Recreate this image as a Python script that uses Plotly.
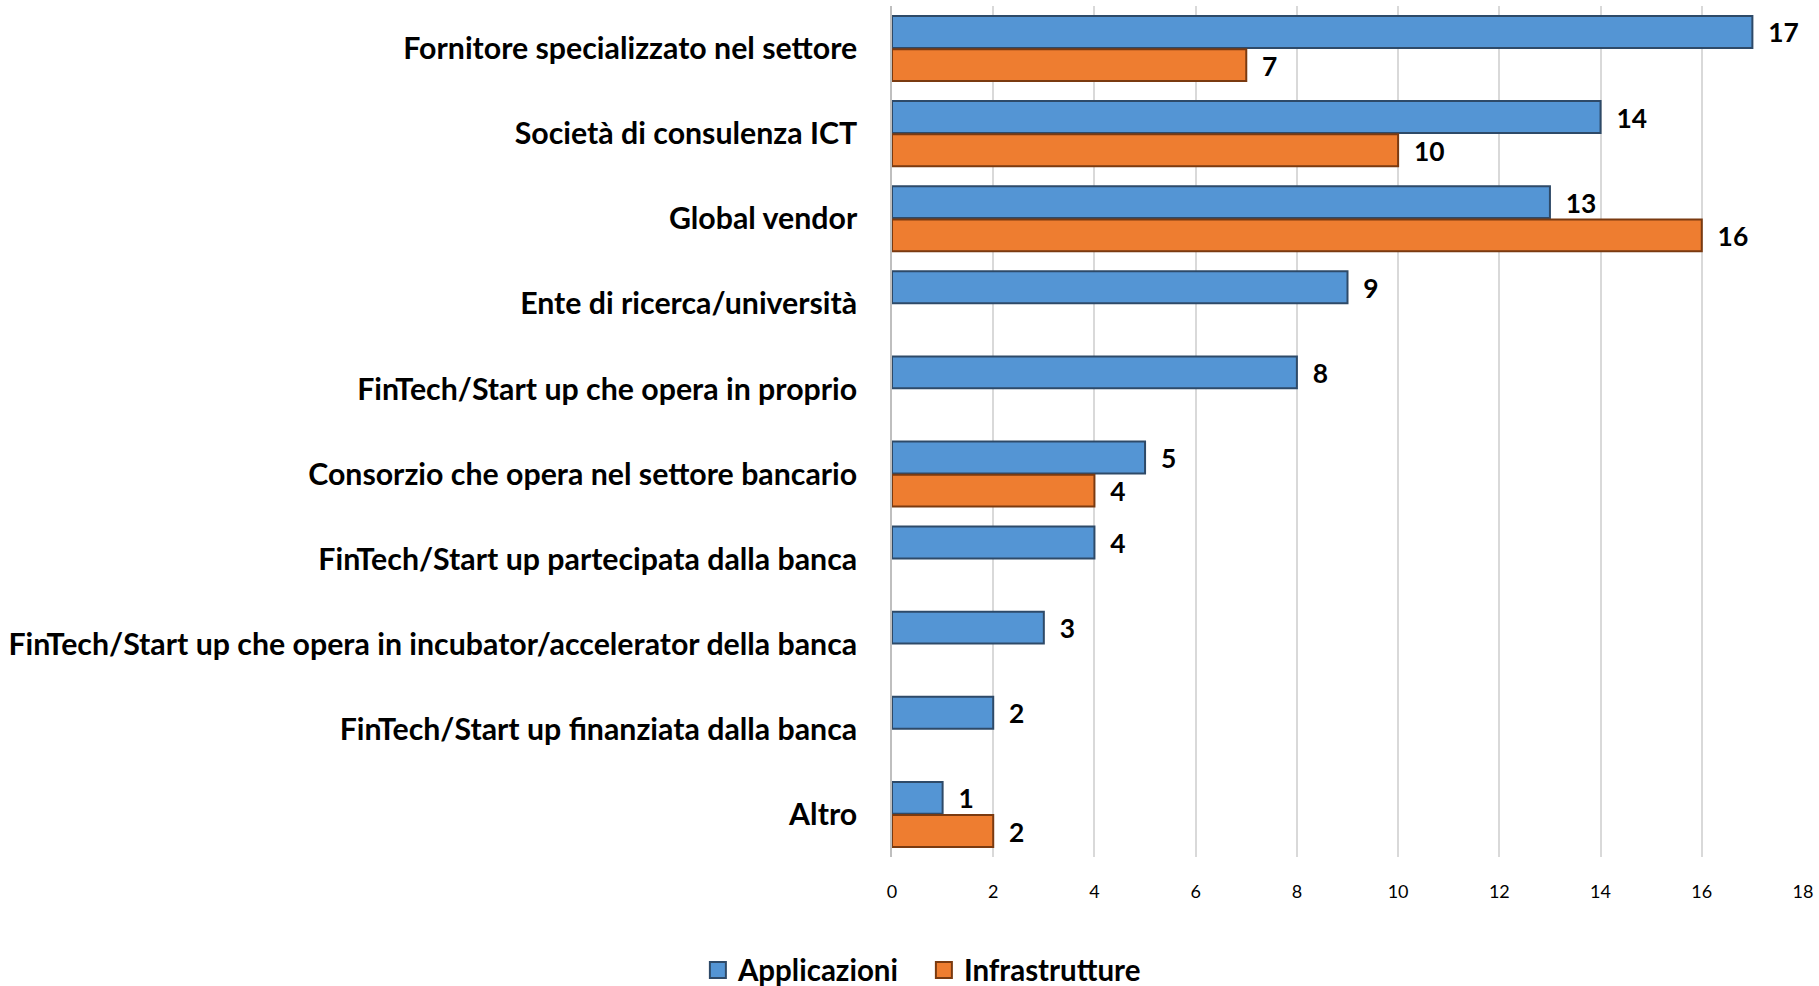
import plotly.graph_objects as go

categories = [
    "Fornitore specializzato nel settore",
    "Società di consulenza ICT",
    "Global vendor",
    "Ente di ricerca/università",
    "FinTech/Start up che opera in proprio",
    "Consorzio che opera nel settore bancario",
    "FinTech/Start up partecipata dalla banca",
    "FinTech/Start up che opera in incubator/accelerator della banca",
    "FinTech/Start up finanziata dalla banca",
    "Altro",
]
applicazioni = [17, 14, 13, 9, 8, 5, 4, 3, 2, 1]
infrastrutture = [7, 10, 16, None, None, 4, None, None, None, 2]
tick_vals = [0, 2, 4, 6, 8, 10, 12, 14, 16, 18]

FONT = "Lato"
PAD = "\u00a0\u00a0"
BLUE, BLUE_EDGE = "#5495D4", "#2E4A68"
ORANGE, ORANGE_EDGE = "#EE7D30", "#7A3A10"

def labels(vals):
    return [("" if v is None else PAD + str(v)) for v in vals]

fig = go.Figure()
fig.add_trace(go.Bar(
    name="Applicazioni", y=categories, x=applicazioni, orientation="h",
    marker=dict(color=BLUE, line=dict(color=BLUE_EDGE, width=2)),
    text=labels(applicazioni), textposition="outside", cliponaxis=False,
    textfont=dict(family=FONT, size=29, color="#000000", weight="bold"),
    showlegend=False,
))
fig.add_trace(go.Bar(
    name="Infrastrutture", y=categories, x=infrastrutture, orientation="h",
    marker=dict(color=ORANGE, line=dict(color=ORANGE_EDGE, width=2)),
    text=labels(infrastrutture), textposition="outside", cliponaxis=False,
    textfont=dict(family=FONT, size=29, color="#000000", weight="bold"),
    showlegend=False,
))
# legend entries with larger square swatches
for nm, col, edge in [("Applicazioni", BLUE, BLUE_EDGE), ("Infrastrutture", ORANGE, ORANGE_EDGE)]:
    fig.add_trace(go.Scatter(
        name=nm, x=[None], y=[None], mode="markers",
        marker=dict(symbol="square", size=18, color=col, line=dict(color=edge, width=2)),
        showlegend=True,
    ))

fig.update_layout(
    barmode="group", bargap=0.22, bargroupgap=0.04,
    width=1819, height=986,
    margin=dict(l=892, r=16, t=6, b=129, autoexpand=False),
    paper_bgcolor="white", plot_bgcolor="white",
    font=dict(family=FONT, color="#000000"),
    showlegend=True,
    legend=dict(orientation="h", x=0.035, xanchor="center",
                yref="container", y=0.016, yanchor="middle",
                font=dict(family=FONT, size=29.5, color="#000000", weight="bold"),
                itemwidth=30, traceorder="normal", entrywidth=181, entrywidthmode="pixels"),
    uniformtext=dict(mode=False),
)
fig.update_xaxes(range=[0, 18], tickvals=tick_vals, showgrid=True, gridcolor="#D9D9D9",
                 gridwidth=1.5, zeroline=False, showline=False,
                 ticks="", tickfont=dict(family=FONT, size=18, color="#000000"),
                 ticklabelstandoff=22)
fig.update_yaxes(autorange="reversed", showgrid=False, showline=True, linecolor="#BFBFBF",
                 linewidth=1.5, ticks="", ticklabelstandoff=27,
                 tickfont=dict(family=FONT, size=30.3, color="#000000", weight="bold"))

fig.write_html("out.html", config={"displayModeBar": False},
               post_script="document.body.style.margin='0';")
